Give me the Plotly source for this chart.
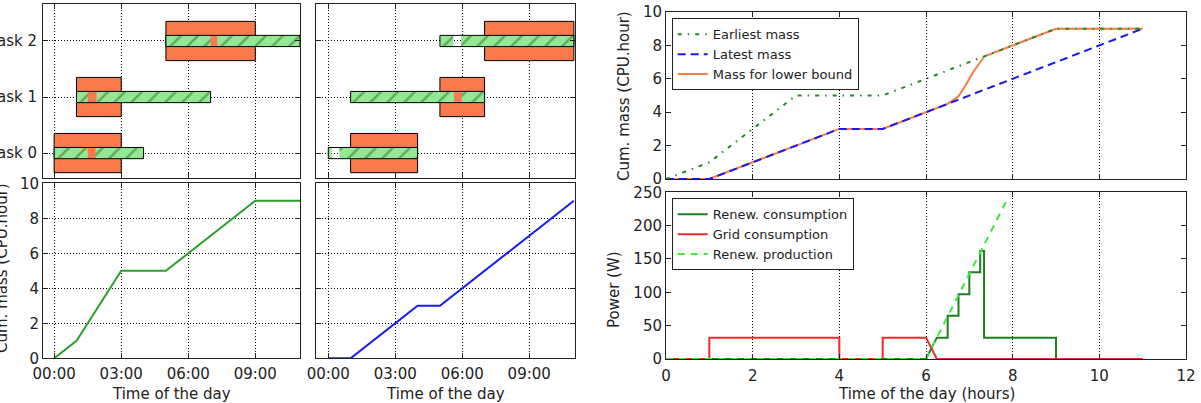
import plotly.graph_objects as go

W, H = 1201, 403

# ---------------- data ----------------
task_names = ["Task 0", "Task 1", "Task 2"]
task_pos = [0, 1, 2]
time_ticks = [0, 3, 6, 9]
time_labels = ["00:00", "03:00", "06:00", "09:00"]
hour_ticks = [0, 2, 4, 6, 8, 10, 12]
mass_ticks = [0, 2, 4, 6, 8, 10]
power_ticks = [0, 50, 100, 150, 200, 250]

# left schedule (earliest)
a_box_start = [0, 1, 5]
a_box_end = [3, 3, 9]
a_bar_start = [0, 1, 5]
a_bar_end = [4, 7, 11]
a_gap_start = [1.5, 1.5, 7.0]
a_gap_end = [1.85, 1.9, 7.3]

# middle schedule (latest)
b_box_start = [1, 5, 7]
b_box_end = [4, 7, 11]
b_bar_start = [0, 1, 5]
b_bar_end = [4, 7, 11]
b_gap_start = [0.15, 5.63, 5.6]
b_gap_end = [0.5, 5.98, 5.95]

# cumulative masses
earliest_t = [0, 1, 3, 5, 9, 11]
earliest_m = [0, 1, 5, 5, 9, 9]
latest_t = [0, 1, 4, 5, 11]
latest_m = [0, 0, 3, 3, 9]
lower_t = [0, 1, 4, 5, 6.5, 6.75, 6.9, 7.1, 7.35, 9, 11]
lower_m = [0, 0, 3, 3, 4.5, 4.95, 5.55, 6.45, 7.35, 9, 9]

# power
renew_t = [0, 6, 6.25, 6.5, 6.5, 6.75, 6.75, 7.0, 7.0, 7.25, 7.25, 7.34, 7.34, 9, 9, 11]
renew_p = [0, 0, 32, 32, 65, 65, 97, 97, 130, 130, 162, 162, 32, 32, 0, 0]
grid_t = [0, 1, 1, 4, 4, 5, 5, 6, 6.25, 11]
grid_p = [0, 0, 32, 32, 0, 0, 32, 32, 0, 0]
prod_t = [0, 6, 7.88]
prod_p = [0, 0, 240]

# ---------------- styles ----------------
FONT = "DejaVu Sans"
TICKF = 15
LEGF = 13
C_BOX = "#FB7A4B"
C_BAR = "#93E893"
C_HATCH = "#2A6A2A"


def px_x(p):
    return p / W


def px_y(p):
    return 1 - p / H


fig = go.Figure()


def gantt(xa, ya, box_s, box_e, bar_s, bar_e, gap_s, gap_e):
    fig.add_trace(go.Bar(
        orientation="h", y=task_pos, base=box_s,
        x=[e - s for s, e in zip(box_s, box_e)], width=0.7,
        marker=dict(color=C_BOX, line=dict(color="black", width=1)),
        xaxis=xa, yaxis=ya, showlegend=False, hoverinfo="skip"))
    for s_list, e_list in ((bar_s, gap_s), (gap_e, bar_e)):
        fig.add_trace(go.Bar(
            orientation="h", y=task_pos, base=s_list,
            x=[e - s for s, e in zip(s_list, e_list)], width=0.2,
            marker=dict(color=C_BAR, line=dict(width=0),
                        pattern=dict(shape="/", fgcolor=C_HATCH, size=12,
                                     solidity=0.2)),
            xaxis=xa, yaxis=ya, showlegend=False, hoverinfo="skip"))
    fig.add_trace(go.Bar(
        orientation="h", y=task_pos, base=bar_s,
        x=[e - s for s, e in zip(bar_s, bar_e)], width=0.2,
        marker=dict(color="rgba(0,0,0,0)", line=dict(color="black", width=1)),
        xaxis=xa, yaxis=ya, showlegend=False, hoverinfo="skip"))


gantt("x", "y", a_box_start, a_box_end, a_bar_start, a_bar_end, a_gap_start, a_gap_end)
gantt("x2", "y2", b_box_start, b_box_end, b_bar_start, b_bar_end, b_gap_start, b_gap_end)

fig.add_trace(go.Scatter(x=earliest_t, y=earliest_m, mode="lines",
                         line=dict(color="#2CA02C", width=2),
                         xaxis="x3", yaxis="y3", showlegend=False))
fig.add_trace(go.Scatter(x=latest_t, y=latest_m, mode="lines",
                         line=dict(color="#1A1AF0", width=2),
                         xaxis="x4", yaxis="y4", showlegend=False))

# top right
fig.add_trace(go.Scatter(x=lower_t, y=lower_m, mode="lines", name="Mass for lower bound",
                         line=dict(color="#FA7A46", width=2), legendrank=3,
                         xaxis="x5", yaxis="y5", legend="legend"))
fig.add_trace(go.Scatter(x=latest_t, y=latest_m, mode="lines", name="Latest mass",
                         line=dict(color="#1A1AF0", width=2, dash="8px,5px"), legendrank=2,
                         xaxis="x5", yaxis="y5", legend="legend"))
fig.add_trace(go.Scatter(x=earliest_t, y=earliest_m, mode="lines", name="Earliest mass",
                         line=dict(color="#1F8A1F", width=2, dash="4px,6px,1.5px,6px"),
                         legendrank=1, xaxis="x5", yaxis="y5", legend="legend"))

# bottom right
fig.add_trace(go.Scatter(x=renew_t, y=renew_p, mode="lines", name="Renew. consumption",
                         line=dict(color="#1E7F1E", width=2),
                         xaxis="x6", yaxis="y6", legend="legend2"))
fig.add_trace(go.Scatter(x=grid_t, y=grid_p, mode="lines", name="Grid consumption",
                         line=dict(color="#EE2A2A", width=2),
                         xaxis="x6", yaxis="y6", legend="legend2"))
fig.add_trace(go.Scatter(x=prod_t, y=prod_p, mode="lines", name="Renew. production",
                         line=dict(color="#3CE83C", width=2, dash="7px,6px"),
                         xaxis="x6", yaxis="y6", legend="legend2"))

GRID = dict(showgrid=True, gridcolor="black", gridwidth=1, griddash="1px,2px")
NOGRID = dict(showgrid=False)


def ax(dom, rng, anchor, grid=True, **kw):
    d = dict(domain=dom, range=rng, anchor=anchor, showline=True, linecolor="#222",
             linewidth=1, mirror="ticks", ticks="inside", ticklen=5, tickwidth=1,
             tickcolor="#222", zeroline=False, automargin=False, fixedrange=True,
             tickfont=dict(family=FONT, size=TICKF, color="#222"))
    d.update(GRID if grid else NOGRID)
    d.update(kw)
    return d


XA = [px_x(43), px_x(300)]
XB = [px_x(316), px_x(575)]
XR = [px_x(666), px_x(1186)]
YT = [px_y(178.3), px_y(4)]
YB = [px_y(358.3), px_y(183.3)]
YRT = [px_y(179), px_y(12)]
YRB = [px_y(359), px_y(192.3)]

fig.update_layout(
    width=W, height=H, margin=dict(l=0, r=0, t=0, b=0),
    paper_bgcolor="white", plot_bgcolor="white", barmode="overlay",
    font=dict(family=FONT, size=TICKF, color="#222"),
    xaxis=ax(XA, [-0.5, 11], "y", tickvals=time_ticks, showticklabels=False),
    yaxis=ax(YT, [-0.45, 2.66], "x", tickvals=task_pos, ticktext=task_names,
             ticklabelstandoff=2),
    xaxis2=ax(XB, [-0.55, 11.05], "y2", tickvals=time_ticks, showticklabels=False),
    yaxis2=ax(YT, [-0.45, 2.66], "x2", tickvals=task_pos, showticklabels=False),
    xaxis3=ax(XA, [-0.5, 11], "y3", tickvals=time_ticks, ticktext=time_labels,
              ticklabelstandoff=2),
    yaxis3=ax(YB, [0, 10], "x3", tickvals=mass_ticks),
    xaxis4=ax(XB, [-0.55, 11.05], "y4", tickvals=time_ticks, ticktext=time_labels,
              ticklabelstandoff=2),
    yaxis4=ax(YB, [0, 10], "x4", tickvals=mass_ticks, showticklabels=False),
    xaxis5=ax(XR, [0, 12], "y5", tickvals=hour_ticks, showticklabels=False),
    yaxis5=ax(YRT, [0, 10], "x5", grid=False, tickvals=mass_ticks),
    xaxis6=ax(XR, [0, 12], "y6", tickvals=hour_ticks, ticklabelstandoff=3),
    yaxis6=ax(YRB, [0, 250], "x6", grid=False, tickvals=power_ticks),
    legend=dict(x=px_x(671.7), y=px_y(18.3), xanchor="left", yanchor="top",
                bordercolor="#222", borderwidth=1, bgcolor="white", tracegroupgap=0,
                font=dict(family=FONT, size=LEGF, color="#222")),
    legend2=dict(x=px_x(671.7), y=px_y(198.3), xanchor="left", yanchor="top",
                 bordercolor="#222", borderwidth=1, bgcolor="white", tracegroupgap=0,
                 font=dict(family=FONT, size=LEGF, color="#222")),
)

titles = [
    ("Cum. mass (CPU.hour)", 2, 268, -90),
    ("Time of the day", 171.5, 394, 0),
    ("Time of the day", 445.5, 394, 0),
    ("Cum. mass (CPU.hour)", 624, 96, -90),
    ("Power (W)", 614, 290, -90),
    ("Time of the day (hours)", 926, 394, 0),
]
for txt, x, y, ang in titles:
    fig.add_annotation(text=txt, x=px_x(x), y=px_y(y), xref="paper", yref="paper",
                       xanchor="center", yanchor="middle", showarrow=False,
                       textangle=ang, font=dict(family=FONT, size=TICKF, color="#222"))

fig.write_html("out.html")
